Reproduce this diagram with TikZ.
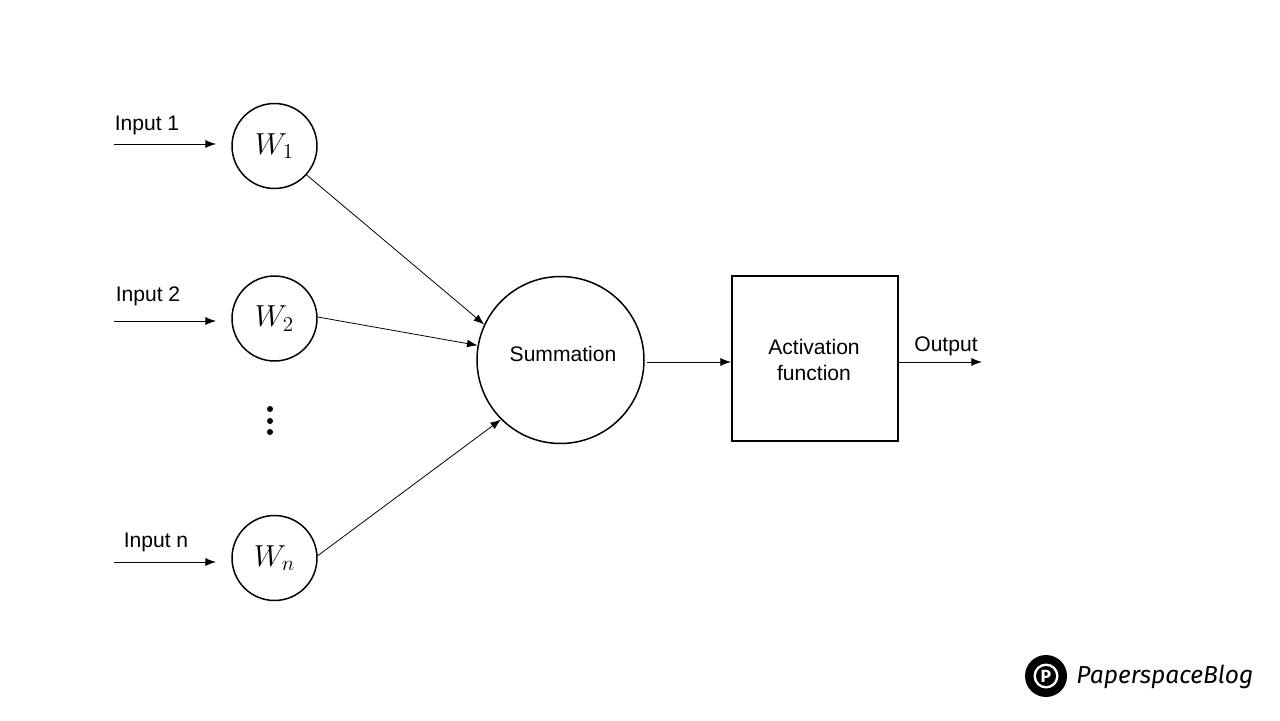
\documentclass[tikz,border=0pt]{standalone}
\usepackage{fontspec}
\setmainfont{Liberation Sans}
\newfontfamily\logofont{Fira Sans}
\usetikzlibrary{arrows.meta}
\tikzset{
	wcircle/.style={draw, circle, line width=0.85pt, minimum size=1.7cm, inner sep=0pt, font=\fontsize{17}{20}\selectfont},
	arrowline/.style={line width=0.45pt, -{Latex[length=6pt,width=4.5pt]}},
	labeltext/.style={inner sep=0pt, font=\fontsize{12}{15.2}\selectfont, align=center},
}

\begin{document}
\begin{tikzpicture}[x=0.02cm, y=-0.02cm]
	\useasboundingbox (0,0) rectangle (1280,720);
	% weights
	\node[wcircle] (w1) at (274.5,146) {$W_1$};
	\node[wcircle] (w2) at (274.5,318.5) {$W_2$};
	\node[wcircle] (wn) at (274.5,558) {$W_n$};
	\foreach \y in {409,421,432}
		\fill (270,\y) circle (3);
	% inputs
	\coordinate (in1) at (114,144);
	\coordinate (end1) at (216,144);
	\coordinate (in2) at (114,321);
	\coordinate (end2) at (216,321);
	\coordinate (inn) at (114,562);
	\coordinate (endn) at (216,562);
	\draw[arrowline] (in1) -- (end1);
	\draw[arrowline] (in2) -- (end2);
	\draw[arrowline] (inn) -- (endn);
	\node[labeltext] (lab1) at (147,125.5) {Input 1};
	\node[labeltext] (lab2) at (148,296.5) {Input 2};
	\node[labeltext] (labn) at (156,542.5) {Input n};
	% summation and activation
	\node[draw, circle, line width=0.85pt, minimum size=3.34cm, inner sep=0pt] (sum) at (560.5,360) {};
	\node[labeltext] (sumtext) at (563,353.5) {Summation};
	\node[draw, line width=0.85pt, minimum width=3.32cm, minimum height=3.3cm, inner sep=0pt] (act) at (815,358.5) {};
	\node[labeltext] (acttext) at (814,360) {Activation\\function};
	\draw[arrowline] (w1.-42) -- (sum.155);
	\draw[arrowline] (w2.2) -- (sum.170);
	\draw[arrowline] (wn.3) -- (sum.225);
	\coordinate (sumout) at (647,362);
	\coordinate (actin) at (731,362);
	\draw[arrowline] (sumout) -- (actin);
	\coordinate (actout) at (898,362);
	\coordinate (outend) at (982,362);
	\draw[arrowline] (actout) -- (outend);
	\node[labeltext] (outlab) at (946,346) {Output};
	% logo
	\fill (1046,676) circle (21);
	\fill[white] (1046,676) circle (12.5);
	\fill (1046,676) circle (10);
	\node[inner sep=0pt, white, font=\logofont\fontsize{10}{12}\selectfont\bfseries] (logop) at (1046,676) {P};
	\node[inner sep=0pt, anchor=west, font=\logofont\fontsize{14}{16}\selectfont\itshape] (logotext) at (1076,677) {Paperspace{\fontseries{l}\selectfont Blog}};
\end{tikzpicture}
\end{document}
